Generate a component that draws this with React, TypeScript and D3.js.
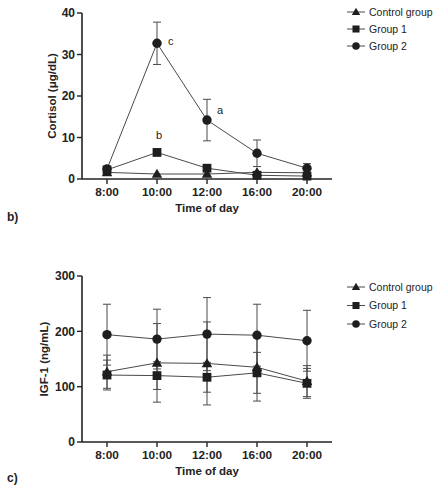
import React from "react";
import * as d3 from "d3";

const times = ["8:00", "10:00", "12:00", "16:00", "20:00"];
const seriesNames = ["Control group", "Group 1", "Group 2"];
const symbols = ["triangle", "square", "circle"];

// Cortisol (µg/dL)
const cortControl = [1.6, 1.2, 1.2, 1.6, 1.5];
const cortControlErr = [0, 0, 0, 0, 0];
const cortGroup1 = [2.2, 6.4, 2.6, 0.9, 0.7];
const cortGroup1Err = [0, 0, 0, 0, 0];
const cortGroup2 = [2.4, 32.7, 14.2, 6.2, 2.6];
const cortGroup2Err = [0, 5.1, 5.0, 3.2, 1.1];
const cortLetters = [
  { time: "10:00", series: 2, label: "c" },
  { time: "12:00", series: 2, label: "a" },
  { time: "10:00", series: 1, label: "b" },
];
const cortTicks = [0, 10, 20, 30, 40];

// IGF-1 (ng/mL)
const igfControl = [127, 143, 142, 135, 110];
const igfControlErr = [30, 71, 75, 61, 28];
const igfGroup1 = [121, 120, 117, 125, 106];
const igfGroup1Err = [27, 25, 27, 37, 27];
const igfGroup2 = [194, 186, 195, 193, 183];
const igfGroup2Err = [55, 54, 66, 56, 55];
const igfTicks = [0, 100, 200, 300];

const FONT = "'Liberation Sans', Arial, sans-serif";
const LINE = "#4a4a4a";
const MARK = "#1e1e1e";
const TEXT = "#222";

const letterOffset: Record<string, [number, number]> = {
  c: [11, -2],
  a: [10, -10],
  b: [-1, -17],
};

function Marker({ kind, x, y, s = 1 }: { kind: string; x: number; y: number; s?: number }) {
  if (kind === "circle") return <circle cx={x} cy={y} r={4.7 * s} fill={MARK} />;
  if (kind === "square")
    return <rect x={x - 4.4 * s} y={y - 4.4 * s} width={8.8 * s} height={8.8 * s} fill={MARK} />;
  const sym = d3.symbol(d3.symbolTriangle, 48 * s * s)();
  return <path d={sym || ""} transform={`translate(${x},${y + 0.8 * s})`} fill={MARK} />;
}

type Panel = {
  top: number;
  bottom: number;
  max: number;
  ticks: number[];
  series: number[][];
  errs: number[][];
  ylabel: string;
  ylabelX: number;
  letters?: { time: string; series: number; label: string }[];
  legendY: number;
  legendGap: number;
  panelLabel: string;
  panelLabelY: number;
};

function ChartPanel({ p }: { p: Panel }) {
  const x = d3.scalePoint<string>().domain(times).range([82, 332]).padding(0.5);
  const y = d3.scaleLinear().domain([0, p.max]).range([p.bottom, p.top]);
  const line = d3
    .line<number>()
    .x((_, i) => x(times[i]) as number)
    .y((d) => y(d));
  return (
    <g>
      <line x1={82} x2={82} y1={p.top} y2={p.bottom} stroke={TEXT} strokeWidth={1.6} />
      <line x1={82} x2={332} y1={p.bottom} y2={p.bottom} stroke={TEXT} strokeWidth={1.6} />
      {p.ticks.map((t) => (
        <g key={t}>
          <line x1={77} x2={82} y1={y(t)} y2={y(t)} stroke={TEXT} strokeWidth={1.4} />
          <text
            x={75}
            y={y(t)}
            dy="0.36em"
            textAnchor="end"
            fontFamily={FONT}
            fontWeight="bold"
            fontSize={12}
            fill={TEXT}
          >
            {t}
          </text>
        </g>
      ))}
      {times.map((t) => (
        <g key={t}>
          <line x1={x(t)} x2={x(t)} y1={p.bottom} y2={p.bottom + 5} stroke={TEXT} strokeWidth={1.4} />
          <text
            x={x(t)}
            y={p.bottom + 16.5}
            textAnchor="middle"
            fontFamily={FONT}
            fontWeight="bold"
            fontSize={11.8}
            fill={TEXT}
          >
            {t}
          </text>
        </g>
      ))}
      <text
        x={207}
        y={p.bottom + 33}
        textAnchor="middle"
        fontFamily={FONT}
        fontWeight="bold"
        fontSize={11.5}
        fill={TEXT}
      >
        Time of day
      </text>
      <text
        transform={`translate(${p.ylabelX},${(p.top + p.bottom) / 2}) rotate(-90)`}
        textAnchor="middle"
        dy="0.36em"
        fontFamily={FONT}
        fontWeight="bold"
        fontSize={11.5}
        fill={TEXT}
      >
        {p.ylabel}
      </text>
      <text x={7} y={p.panelLabelY} fontFamily={FONT} fontWeight="bold" fontSize={12} fill={TEXT} dy="0.36em">
        {p.panelLabel}
      </text>
      {p.series.map((s, si) =>
        s.map((v, i) => {
          const e = p.errs[si][i];
          if (!e) return null;
          const cx = x(times[i]) as number;
          return (
            <g key={`e${si}-${i}`} stroke={LINE} strokeWidth={1}>
              <line x1={cx} x2={cx} y1={y(v + e)} y2={y(v - e)} />
              <line x1={cx - 4} x2={cx + 4} y1={y(v + e)} y2={y(v + e)} />
              <line x1={cx - 4} x2={cx + 4} y1={y(v - e)} y2={y(v - e)} />
            </g>
          );
        })
      )}
      {p.series.map((s, si) => (
        <path key={`l${si}`} d={line(s) || ""} fill="none" stroke={LINE} strokeWidth={1} />
      ))}
      {p.series.map((s, si) =>
        s.map((v, i) => <Marker key={`m${si}-${i}`} kind={symbols[si]} x={x(times[i]) as number} y={y(v)} />)
      )}
      {(p.letters || []).map((l, i) => {
        const idx = times.indexOf(l.time);
        const v = p.series[l.series][idx];
        const [ox, oy] = letterOffset[l.label] || [10, -4];
        return (
          <text
            key={`t${i}`}
            x={(x(l.time) as number) + ox}
            y={y(v) + oy}
            fontFamily={FONT}
            fontSize={11}
            fill={TEXT}
            dy="0.36em"
          >
            {l.label}
          </text>
        );
      })}
      {seriesNames.map((n, i) => {
        const ly = p.legendY + i * p.legendGap;
        return (
          <g key={n}>
            <line x1={347} x2={365} y1={ly} y2={ly} stroke={LINE} strokeWidth={1} />
            <Marker kind={symbols[i]} x={356} y={ly} s={0.8} />
            <text x={369} y={ly} dy="0.36em" fontFamily={FONT} fontSize={10.5} fill={TEXT}>
              {n}
            </text>
          </g>
        );
      })}
    </g>
  );
}

export default function App() {
  const panels: Panel[] = [
    {
      top: 13,
      bottom: 179,
      max: 40,
      ticks: cortTicks,
      series: [cortControl, cortGroup1, cortGroup2],
      errs: [cortControlErr, cortGroup1Err, cortGroup2Err],
      ylabel: "Cortisol (μg/dL)",
      ylabelX: 52,
      letters: cortLetters,
      legendY: 12,
      legendGap: 17,
      panelLabel: "b)",
      panelLabelY: 217,
    },
    {
      top: 276,
      bottom: 442,
      max: 300,
      ticks: igfTicks,
      series: [igfControl, igfGroup1, igfGroup2],
      errs: [igfControlErr, igfGroup1Err, igfGroup2Err],
      ylabel: "IGF-1 (ng/mL)",
      ylabelX: 44,
      legendY: 287,
      legendGap: 18.5,
      panelLabel: "c)",
      panelLabelY: 478,
    },
  ];
  return (
    <svg
      width={438}
      height={492}
      style={{ position: "absolute", left: 0, top: 0, background: "#fff" }}
    >
      <rect width={438} height={492} fill="#fff" />
      {panels.map((p, i) => (
        <ChartPanel key={i} p={p} />
      ))}
    </svg>
  );
}
